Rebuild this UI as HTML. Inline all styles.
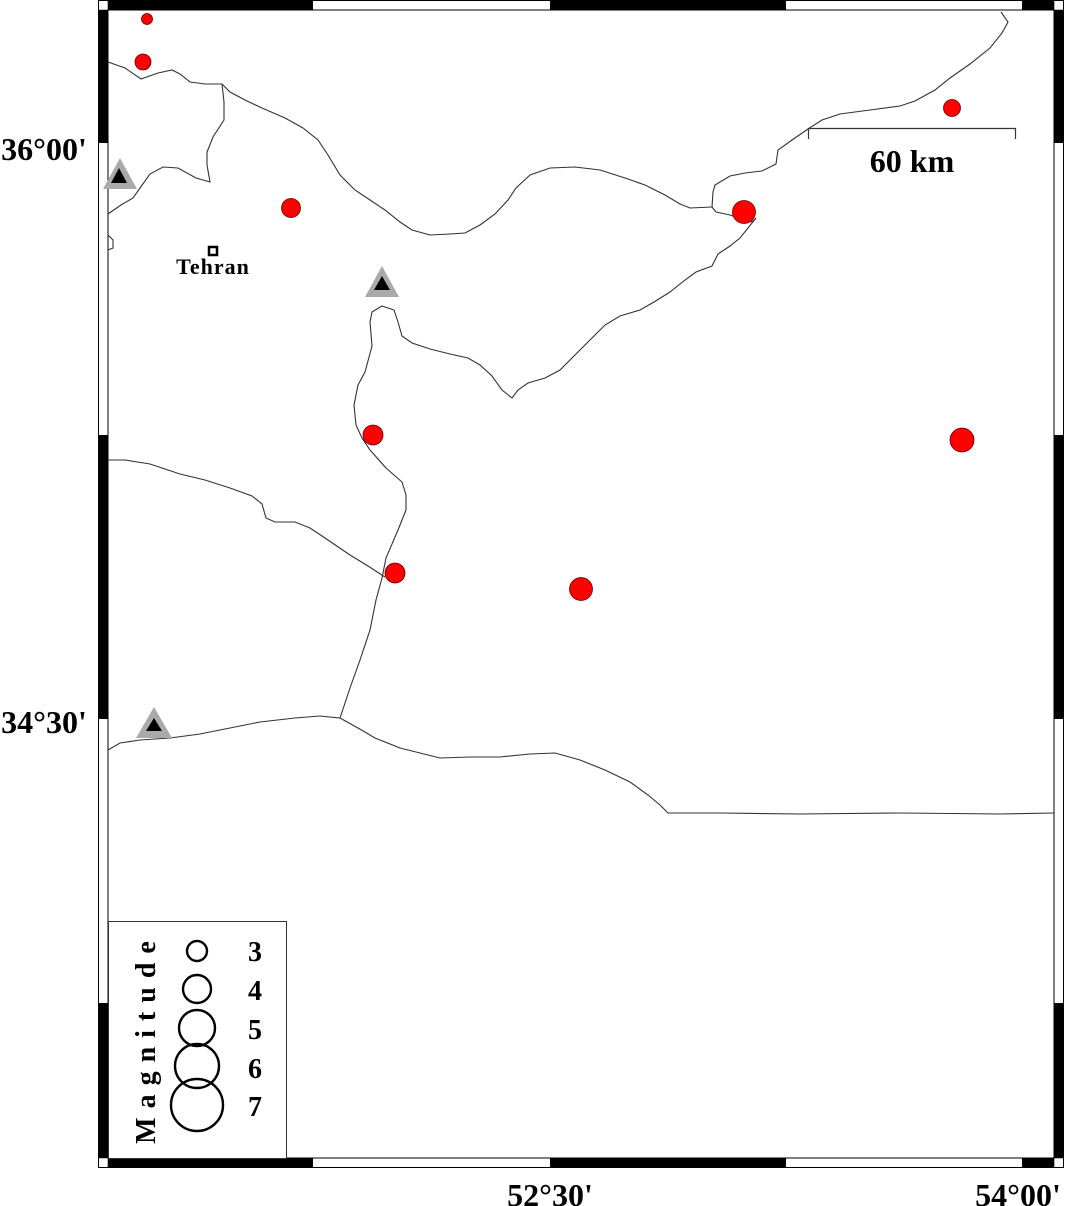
<!DOCTYPE html>
<html><head><meta charset="utf-8"><style>
body{margin:0;background:#fff;}
svg{display:block;}
text{font-family:"Liberation Serif",serif;font-weight:bold;fill:#000;}
</style></head><body>
<svg width="1066" height="1206" viewBox="0 0 1066 1206" xmlns="http://www.w3.org/2000/svg">
<rect x="0" y="0" width="1066" height="1206" fill="#fff"/>
<rect x="98.5" y="0.5" width="965" height="1167" fill="#fff" stroke="#000" stroke-width="1"/>
<g fill="#000">
<rect x="108" y="1" width="205" height="9"/><rect x="550" y="1" width="236" height="9"/><rect x="1022" y="1" width="32" height="9"/>
<rect x="108" y="1158" width="205" height="9"/><rect x="550" y="1158" width="236" height="9"/><rect x="1022" y="1158" width="32" height="9"/>
<rect x="99" y="10" width="9" height="133"/><rect x="99" y="435" width="9" height="284"/><rect x="99" y="1003" width="9" height="155"/>
<rect x="1054" y="10" width="9" height="133"/><rect x="1054" y="435" width="9" height="284"/><rect x="1054" y="1003" width="9" height="155"/>
</g>
<g fill="none" stroke="#000" stroke-width="1">
<line x1="108" y1="10" x2="1054" y2="10"/><line x1="108" y1="1158" x2="1054" y2="1158"/>
<line x1="108" y1="10" x2="108" y2="1158"/><line x1="1054" y1="10" x2="1054" y2="1158"/>
<line x1="98" y1="10" x2="1064" y2="10" stroke-width="0.6"/><line x1="98" y1="1158" x2="1064" y2="1158" stroke-width="0.6"/>
<line x1="108" y1="0" x2="108" y2="1168" stroke-width="0.6"/><line x1="1054" y1="0" x2="1054" y2="1168" stroke-width="0.6"/>
</g>
<g fill="none" stroke="#333" stroke-width="1.1">
<polyline points="108,62 125,68 141,79 158,73 172,70 180,74 190,82 205,84 222,84 230,92 245,100 262,108 285,118 303,128 318,140 328,155 340,175 355,190 370,200 385,210 400,222 412,230 430,235 450,234 465,233 480,225 495,214 508,200 516,188 530,175 550,168 575,167 600,170 625,178 645,185 665,195 680,204 690,208 712,207 713,192 715,185 730,176 745,173 762,171 776,164 778,150 792,140 808,129 822,120 840,114 870,110 900,106 915,101 935,90 950,78 970,64 990,48 1002,33 1008,22 1001,12"/>
<polyline points="222,84 224,102 224,120 213,137 207,152 207,165 210,182 196,178 178,168 163,167 150,174 140,188 133,198 121,205 108,214"/>
<polyline points="108,235 113,240 113,248 108,250"/>
<polyline points="712,207 716,212 730,215 745,220 752,222 756,218 748,228 740,238 730,246 718,254 712,266 696,272 685,280 670,292 654,302 640,310 620,316 605,325 590,340 575,355 560,370 545,378 528,383 518,390 512,398 502,390 492,376 480,365 468,358 450,354 430,349 412,343 402,336 398,322 394,310 382,306 372,312 370,322 372,346 365,372 358,385 354,405 356,425 362,438 370,450 386,468 402,482 406,495 406,510 398,530 386,558 382,578 376,600 370,630 360,660 350,688 340,718 320,716 295,718 260,722 230,728 200,734 170,738 140,740 120,743 108,750"/>
<polyline points="340,718 358,728 375,738 400,748 420,753 440,758 470,757 500,757 530,754 555,753 580,760 605,770 630,782 648,795 660,805 668,813 720,813 800,814 900,813 1000,814 1054,813"/>
<polyline points="108,460 125,460 150,464 180,474 205,480 230,488 252,496 262,504 266,518 275,522 295,522 310,528 325,538 350,555 368,566 385,577"/>
</g>
<g fill="#f00" stroke="#600" stroke-width="0.8">
<circle cx="147" cy="19" r="5.5"/>
<circle cx="143" cy="62" r="8"/>
<circle cx="952" cy="108" r="8.5"/>
<circle cx="291" cy="208" r="9.5"/>
<circle cx="744" cy="212" r="11.5"/>
<circle cx="373" cy="435" r="10"/>
<circle cx="962" cy="440" r="12"/>
<circle cx="395" cy="573" r="10"/>
<circle cx="581" cy="589" r="11.5"/>
</g>
<g>
<polygon points="120,158 137,189 103,189" fill="#aaa"/><polygon points="119,168 127,183 111,183" fill="#000"/>
<polygon points="382,266 399,297 365,297" fill="#aaa"/><polygon points="382,276 390,290 374,290" fill="#000"/>
<polygon points="154,707 172,738 136,738" fill="#aaa"/><polygon points="154,718 162,731 146,731" fill="#000"/>
</g>
<rect x="209" y="247" width="8" height="8" fill="#fff" stroke="#000" stroke-width="2.5"/>
<text x="213" y="274" font-size="22" text-anchor="middle" letter-spacing="1">Tehran</text>
<polyline points="808.5,139 808.5,128.5 1015.5,128.5 1015.5,139" fill="none" stroke="#333" stroke-width="1.2"/>
<text x="912" y="172" font-size="32" text-anchor="middle">60 km</text>
<text x="44" y="160" font-size="32" text-anchor="middle">36°00'</text>
<text x="44" y="733" font-size="32" text-anchor="middle">34°30'</text>
<text x="550" y="1206" font-size="32" text-anchor="middle">52°30'</text>
<text x="1018" y="1206" font-size="32" text-anchor="middle">54°00'</text>
<rect x="108.5" y="921.5" width="178" height="237" fill="#fff" stroke="#333" stroke-width="1"/>
<text transform="translate(155,1038) rotate(-90)" font-size="28" text-anchor="middle" letter-spacing="9">Magnitude</text>
<g fill="none" stroke="#000" stroke-width="2.4">
<circle cx="197" cy="951" r="10"/>
<circle cx="197" cy="989" r="14"/>
<circle cx="197" cy="1028" r="18"/>
<circle cx="197" cy="1066" r="22"/>
<circle cx="197" cy="1105" r="26"/>
</g>
<g font-size="28">
<text x="248" y="961">3</text>
<text x="248" y="1000">4</text>
<text x="248" y="1039">5</text>
<text x="248" y="1078">6</text>
<text x="248" y="1116">7</text>
</g>
</svg>
</body></html>
